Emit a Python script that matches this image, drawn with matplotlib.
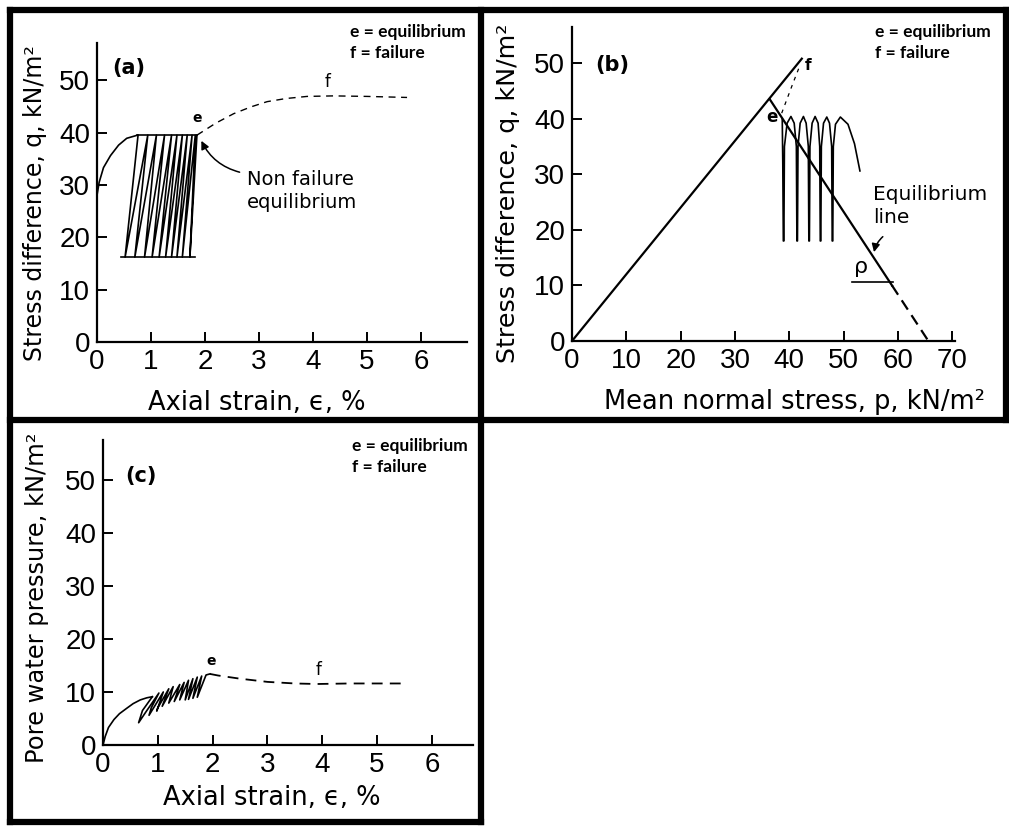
import matplotlib
matplotlib.use("Agg")
import matplotlib.pyplot as plt
from matplotlib.lines import Line2D

# ---------------------------------------------------------------- data
# (a) stress difference vs axial strain
a_mono_strain = [0.0, 0.04, 0.12, 0.25, 0.40, 0.55, 0.75]
a_mono_q = [28.0, 30.5, 33.3, 35.6, 37.6, 38.9, 39.5]
a_cyc_strain = [0.76, 0.52, 0.94, 0.70, 1.10, 0.88, 1.25, 1.02, 1.38, 1.15,
                1.48, 1.27, 1.58, 1.38, 1.67, 1.48, 1.76, 1.58, 1.82, 1.72, 1.85]
a_cyc_q = [39.5, 16.2, 39.5, 16.2, 39.5, 16.2, 39.5, 16.2, 39.5, 16.2,
           39.5, 16.2, 39.5, 16.2, 39.5, 16.2, 39.5, 16.2, 39.5, 16.2, 39.5]
a_cap_strain = [0.74, 1.85]
a_cap_q = [39.5, 39.5]
a_base_strain = [0.44, 1.81]
a_base_q = [16.2, 16.2]
a_fail_strain = [1.85, 2.2, 2.53, 2.85, 3.15, 3.5, 3.89, 4.38, 5.0, 5.74]
a_fail_q = [39.5, 41.8, 43.6, 44.9, 45.9, 46.5, 46.9, 47.0, 46.9, 46.7]

# (b) stress path in p-q space
b_fail_p = [0.0, 42.3]
b_fail_q = [0.0, 50.8]
b_eq_p = [36.4, 58.9]
b_eq_q = [43.5, 10.0]
b_eq_ext_p = [58.9, 65.6]
b_eq_ext_q = [10.0, 0.0]
b_ef_p = [38.6, 39.6, 40.6, 41.8]
b_ef_q = [41.0, 43.6, 46.2, 49.2]
b_rho_p = [51.5, 59.0]
b_rho_q = [10.6, 10.6]
b_path_p = [53.0, 52.0, 50.8, 49.4, 48.5, 48.1, 48.0,
            47.9, 47.8, 47.4, 46.9, 46.3, 45.9, 45.8,
            45.7, 45.6, 45.3, 44.75, 44.2, 43.8, 43.7,
            43.6, 43.5, 43.1, 42.6, 42.0, 41.6, 41.5,
            41.4, 41.3, 40.9, 40.3, 39.6, 39.1, 39.0,
            38.9, 38.8, 38.7]
b_path_q = [30.6, 35.5, 39.0, 40.3, 39.0, 35.0, 18.0,
            18.0, 35.0, 39.2, 40.3, 39.2, 35.0, 18.0,
            18.0, 35.0, 39.2, 40.4, 39.2, 35.0, 18.0,
            18.0, 35.0, 39.2, 40.4, 39.2, 35.0, 18.0,
            18.0, 35.0, 39.2, 40.4, 39.2, 35.0, 18.0,
            18.0, 32.0, 40.0]

# (c) pore water pressure vs axial strain
c_mono_strain = [0.0, 0.04, 0.10, 0.20, 0.30, 0.43, 0.55, 0.68, 0.80, 0.90]
c_mono_u = [0.0, 1.6, 3.3, 4.8, 5.9, 6.9, 7.8, 8.5, 8.9, 9.1]
c_cyc_strain = [0.90, 0.72, 0.65, 0.78, 1.02, 0.88, 0.84, 1.10, 0.98, 1.00,
                1.20, 1.08, 1.28, 1.20, 1.40, 1.30, 1.48, 1.40, 1.56, 1.50,
                1.64, 1.56, 1.72, 1.64, 1.80, 1.72, 1.88, 1.95]
c_cyc_u = [9.1, 6.5, 4.2, 6.2, 9.8, 7.0, 5.6, 10.0, 6.4, 7.0,
           10.6, 7.3, 11.0, 7.9, 11.4, 8.2, 11.8, 8.5, 12.2, 8.5,
           12.5, 8.6, 12.8, 8.8, 13.0, 9.0, 13.2, 13.4]
c_fail_strain = [1.95, 2.1, 2.5, 3.0, 3.5, 3.9, 4.5, 5.0, 5.5]
c_fail_u = [13.4, 13.1, 12.5, 11.9, 11.6, 11.5, 11.6, 11.6, 11.6]

strain_ticks = [0, 1, 2, 3, 4, 5, 6]
q_ticks = [0, 10, 20, 30, 40, 50]
p_ticks = [0, 10, 20, 30, 40, 50, 60, 70]

# ---------------------------------------------------------------- figure
W, H = 1009, 832
fig = plt.figure(figsize=(W / 100, H / 100), dpi=100)
fig.patch.set_facecolor("white")

TICK_FONT = ["Liberation Sans", "DejaVu Sans"]
LABEL_FONT = ["DejaVu Sans"]
NOTE_FONT = ["Lato", "DejaVu Sans"]


def fx(px):
    return px / W


def fy(py):
    return 1 - py / H


def fig_text(px, py, s, **kw):
    fig.text(fx(px), fy(py), s, **kw)


def make_axes(left, top, right, bottom, xlim, ylim, xticks, yticks):
    ax = fig.add_axes([fx(left), fy(bottom), (right - left) / W, (bottom - top) / H])
    ax.set_xlim(*xlim)
    ax.set_ylim(*ylim)
    for s in ("top", "right"):
        ax.spines[s].set_visible(False)
    for s in ("left", "bottom"):
        ax.spines[s].set_linewidth(1.6)
    ax.set_xticks(xticks)
    ax.set_yticks(yticks)
    ax.tick_params(direction="in", length=7, width=1.4, labelsize=20, pad=5)
    for lab in ax.get_xticklabels() + ax.get_yticklabels():
        lab.set_family(TICK_FONT)
    ax.patch.set_alpha(0)
    return ax


line_kw = dict(color="black", lw=1.2, solid_joinstyle="round")

# ---------------------------------------------------------------- panel (a)
ax_a = make_axes(97, 43, 467, 342, (0, 6.85), (0, 57.1), strain_ticks, q_ticks)
ax_a.plot(a_mono_strain, a_mono_q, **line_kw)
ax_a.plot(a_cyc_strain, a_cyc_q, **line_kw)
ax_a.plot(a_cap_strain, a_cap_q, **line_kw)
ax_a.plot(a_base_strain, a_base_q, **line_kw)
ax_a.plot(a_fail_strain, a_fail_q, color="black", lw=1.0, dashes=(5, 4))
ax_a.text(1.85, 41.4, "e", fontsize=10, fontweight="bold", ha="center", va="bottom")
ax_a.text(4.26, 48.0, "f", fontsize=12, ha="center", va="bottom")
ax_a.annotate("", xy=(1.91, 38.9), xytext=(2.69, 32.3),
              arrowprops=dict(arrowstyle="-|>", color="black", lw=1.1,
                              connectionstyle="arc3,rad=-0.25", mutation_scale=12))
ax_a.text(2.78, 28.8, "Non failure\nequilibrium", fontsize=14, ha="left", va="center",
          family=LABEL_FONT, linespacing=1.25)

# ---------------------------------------------------------------- panel (b)
ax_b = make_axes(572, 27, 955, 341, (0, 70.5), (0, 56.5), p_ticks, q_ticks)
ax_b.plot(b_fail_p, b_fail_q, color="black", lw=1.6)
ax_b.plot(b_eq_p, b_eq_q, color="black", lw=1.6)
ax_b.plot(b_eq_ext_p, b_eq_ext_q, color="black", lw=1.6, dashes=(5, 3))
ax_b.plot(b_ef_p, b_ef_q, color="black", lw=0.9, dashes=(3, 4))
ax_b.plot(b_rho_p, b_rho_q, color="black", lw=1.2)
ax_b.plot(b_path_p, b_path_q, **line_kw)
ax_b.text(36.8, 40.3, "e", fontsize=12, fontweight="bold", ha="center", va="center")
ax_b.text(43.4, 49.6, "f", fontsize=11, fontweight="bold", ha="center", va="center")
ax_b.text(53.3, 13.4, "ρ", fontsize=16, ha="center", va="center")
ax_b.text(55.4, 24.3, "Equilibrium\nline", fontsize=14.5, ha="left", va="center",
          family=LABEL_FONT, linespacing=1.25, clip_on=False)
ax_b.annotate("", xy=(55.5, 15.5), xytext=(57.6, 19.1),
              arrowprops=dict(arrowstyle="-|>", color="black", lw=1.1,
                              connectionstyle="arc3,rad=0.2", mutation_scale=12))

# ---------------------------------------------------------------- panel (c)
ax_c = make_axes(103, 440, 473, 745, (0, 6.75), (0, 57.5), strain_ticks, q_ticks)
ax_c.plot(c_mono_strain, c_mono_u, **line_kw)
ax_c.plot(c_cyc_strain, c_cyc_u, **line_kw)
ax_c.plot(c_fail_strain, c_fail_u, color="black", lw=1.3, dashes=(6, 4))
ax_c.text(1.98, 14.6, "e", fontsize=10, fontweight="bold", ha="center", va="bottom")
ax_c.text(3.93, 12.4, "f", fontsize=12, ha="center", va="bottom")

# ---------------------------------------------------------------- labels
lab_kw = dict(family=LABEL_FONT, ha="center", va="center")
fig_text(35, 203, "Stress difference, q, kN/m²", rotation=90, fontsize=17, **lab_kw)
fig_text(257, 403, "Axial strain, ϵ, %", fontsize=18.5, **lab_kw)
fig_text(508, 193, "Stress difference, q, kN/m²", rotation=90, fontsize=18.3, **lab_kw)
fig_text(794, 402, "Mean normal stress, p, kN/m²", fontsize=18.5, **lab_kw)
fig_text(37, 598, "Pore water pressure, kN/m²", rotation=90, fontsize=17.4, **lab_kw)
fig_text(272, 798, "Axial strain, ϵ, %", fontsize=18.5, **lab_kw)

fig_text(129, 68, "(a)", fontsize=15, fontweight="bold", family=LABEL_FONT, ha="center", va="center")
fig_text(612, 65, "(b)", fontsize=15, fontweight="bold", family=LABEL_FONT, ha="center", va="center")
fig_text(141, 476, "(c)", fontsize=15, fontweight="bold", family=LABEL_FONT, ha="center", va="center")

note_kw = dict(family=NOTE_FONT, fontweight="bold", fontsize=12.5, ha="left", va="center")
for left, top in ((350, 32), (875, 32), (352, 446)):
    fig_text(left, top, "e = equilibrium", **note_kw)
    fig_text(left, top + 21, "f = failure", **note_kw)

# ---------------------------------------------------------------- frames
frame_kw = dict(color="black", lw=4.5, solid_capstyle="projecting", transform=fig.transFigure)
frames = [
    ((10, 1006), (10, 10)),
    ((10, 1006), (420, 420)),
    ((10, 481), (822, 822)),
    ((10, 10), (10, 822)),
    ((481, 481), (10, 822)),
    ((1006, 1006), (10, 420)),
]
for xs, ys in frames:
    fig.add_artist(Line2D([fx(x) for x in xs], [fy(y) for y in ys], **frame_kw))

fig.savefig("out.png", dpi=100, facecolor="white")
